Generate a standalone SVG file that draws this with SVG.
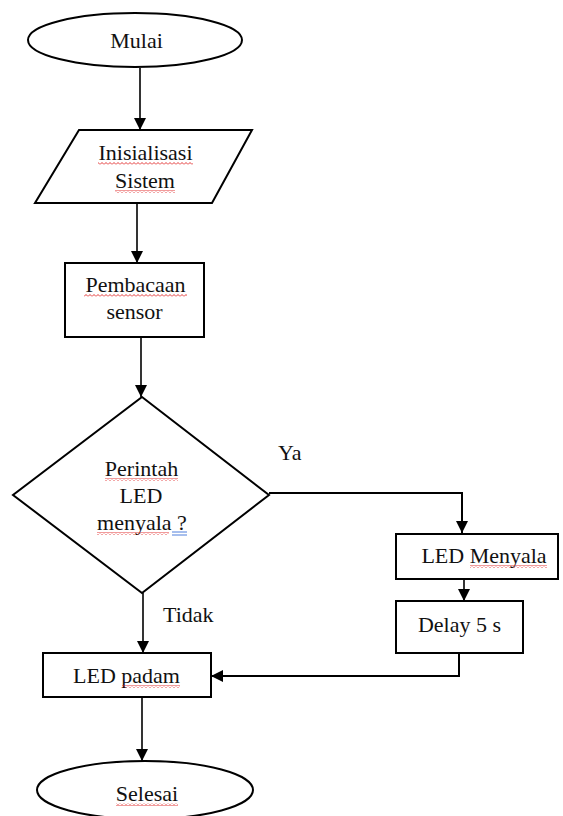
<svg xmlns="http://www.w3.org/2000/svg" width="563" height="816" viewBox="0 0 563 816">
<defs>
<marker id="arr" markerUnits="userSpaceOnUse" markerWidth="12" markerHeight="12" viewBox="0 0 12 12" refX="12" refY="6" orient="auto">
<path d="M0,0 L12,6 L0,12 Z" fill="#000"/>
</marker>
<pattern id="sq" patternUnits="userSpaceOnUse" width="4" height="3">
<path d="M0,2.5 L2,0.5 L4,2.5" fill="none" stroke="#e02020" stroke-width="0.9"/>
</pattern>
</defs>
<style>
.s{fill:#fff;stroke:#000;stroke-width:2}
.t{font-family:"Liberation Serif","Times New Roman",serif;font-size:22px;fill:#111;text-anchor:middle}
.l{fill:none;stroke:#000;stroke-width:1.6}
.sq{fill:url(#sq)}
</style>
<rect width="563" height="816" fill="#fff"/>
<g id="connectors">
<path class="l" d="M140,68 V130" marker-end="url(#arr)"/>
<path class="l" d="M137,203 V263" marker-end="url(#arr)"/>
<path class="l" d="M141,337 V397" marker-end="url(#arr)"/>
<path class="l" style="stroke-width:2" d="M269,493 H462 V533" marker-end="url(#arr)"/>
<path class="l" d="M464,579 V601" marker-end="url(#arr)"/>
<path class="l" style="stroke-width:2" d="M459,653 V676 H211" marker-end="url(#arr)"/>
<path class="l" d="M143,593 V653" marker-end="url(#arr)"/>
<path class="l" d="M142,697 V761" marker-end="url(#arr)"/>
</g>
<g id="mulai">
<ellipse class="s" cx="135" cy="40" rx="107" ry="27"/>
<text class="t" x="136.5" y="48">Mulai</text>
</g>
<g id="inisialisasi">
<polygon class="s" points="79,130 252,130 212,203 35,203"/>
<text class="t" x="145.5" y="160">Inisialisasi</text>
<text class="t" x="145" y="188">Sistem</text>
<rect class="sq" x="98" y="162" width="95" height="3"/>
<rect class="sq" x="115" y="190" width="60" height="3"/>
</g>
<g id="pembacaan">
<rect class="s" x="65" y="263" width="139" height="74"/>
<text class="t" x="135.5" y="292">Pembacaan</text>
<text class="t" x="134.5" y="319">sensor</text>
<rect class="sq" x="84" y="294" width="103" height="3"/>
</g>
<g id="keputusan">
<polygon class="s" points="142,397 269,495 142,593 13,495"/>
<text class="t" x="141.5" y="476">Perintah</text>
<text class="t" x="141" y="503">LED</text>
<text class="t" x="142" y="530">menyala ?</text>
<rect class="sq" x="105" y="478" width="73" height="3"/>
<rect class="sq" x="97" y="532" width="72" height="3"/>
<path d="M172,532 H187 M172,535 H187" stroke="#3b6fd8" stroke-width="0.9"/>
</g>
<g id="led-menyala">
<rect class="s" x="396" y="534" width="162" height="45"/>
<text class="t" x="484" y="563">LED Menyala</text>
<rect class="sq" x="470" y="565" width="77" height="3"/>
</g>
<g id="delay">
<rect class="s" x="396" y="601" width="127" height="52"/>
<text class="t" x="459.5" y="632">Delay 5 s</text>
</g>
<g id="led-padam">
<rect class="s" x="43" y="653" width="168" height="44"/>
<text class="t" x="126.5" y="683">LED padam</text>
<rect class="sq" x="122" y="685" width="58" height="3"/>
</g>
<g id="selesai">
<ellipse class="s" cx="145" cy="790" rx="108" ry="29"/>
<text class="t" x="147" y="801">Selesai</text>
<rect class="sq" x="116" y="803" width="62" height="3"/>
</g>
<g id="labels">
<text class="t" style="text-anchor:start" x="278" y="460">Ya</text>
<text class="t" style="text-anchor:start" x="163" y="622">Tidak</text>
</g>
</svg>
